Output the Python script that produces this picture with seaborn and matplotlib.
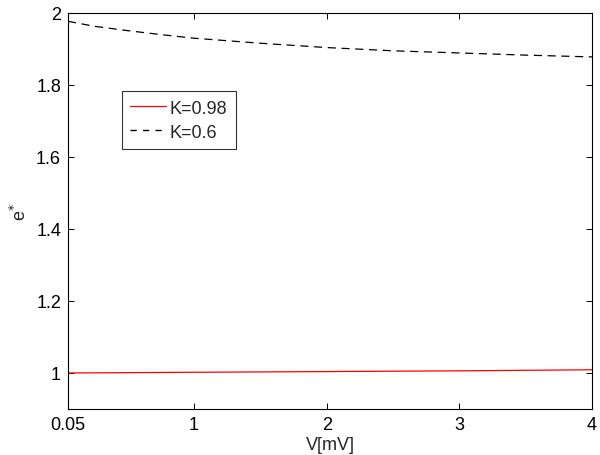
import matplotlib
matplotlib.use("Agg")
import matplotlib.pyplot as plt
import seaborn as sns
import numpy as np
import pandas as pd

# Data
v = [0.05, 0.25, 0.5, 0.75, 1.0, 1.5, 2.0, 2.5, 3.0, 3.5, 4.0]
e_k098 = [1.000, 1.0005, 1.001, 1.0015, 1.002, 1.003, 1.004, 1.005, 1.006, 1.0075, 1.009]
e_k06 = [1.977, 1.963, 1.951, 1.940, 1.930, 1.916, 1.904, 1.895, 1.889, 1.883, 1.878]
xticks = [0.05, 1, 2, 3, 4]
xticklabels = ["0.05", "1", "2", "3", "4"]
yticks = [1, 1.2, 1.4, 1.6, 1.8, 2]
yticklabels = ["1", "1.2", "1.4", "1.6", "1.8", "2"]

sns.set_theme(style="white")
plt.rcParams['font.family'] = ['Liberation Sans', 'DejaVu Sans']

df = pd.DataFrame({"V": v + v,
                   "e": e_k098 + e_k06,
                   "K": ["K=0.98"] * len(v) + ["K=0.6"] * len(v)})

fig = plt.figure(figsize=(6, 4.56), dpi=100)
ax = fig.add_axes([68 / 600, 1 - 410 / 456, (592 - 68) / 600, (410 - 14) / 456])

sns.lineplot(data=df, x="V", y="e", hue="K", style="K",
             palette={"K=0.98": "#ff0000", "K=0.6": "black"},
             dashes={"K=0.98": "", "K=0.6": (6.5, 4.5)},
             linewidth=0.9, ax=ax, legend=True)

ax.set_xlim(0.05, 4)
ax.set_ylim(0.9, 2.0)
ax.set_xticks(xticks)
ax.set_xticklabels(xticklabels)
ax.set_yticks(yticks)
ax.set_yticklabels(yticklabels)
ax.tick_params(direction="in", length=4, width=0.7, top=True, right=True,
               labelsize=13, colors="black", pad=5)
ax.tick_params(axis="both", which="both", bottom=True, left=True)
for s in ax.spines.values():
    s.set_color("black")
    s.set_linewidth(0.8)
    s.set_visible(True)

ax.set_xlabel("V[mV]", fontsize=13, labelpad=2)
ax.set_ylabel(r"e$^{*}$", fontsize=13, labelpad=4)

leg = ax.legend(loc="upper left", bbox_to_anchor=(0.103, 0.802), frameon=True,
                fontsize=13, handlelength=2.0, borderpad=0.45, labelspacing=0.4,
                handletextpad=0.2, borderaxespad=0, fancybox=False)
leg.get_frame().set_edgecolor("black")
leg.get_frame().set_linewidth(0.8)
for h in leg.get_lines():
    if h.get_linestyle() != "-":
        h.set_linewidth(1.0)
        h.set_dashes((4.5, 4.5))

fig.savefig("out.png", dpi=100, facecolor="white")
